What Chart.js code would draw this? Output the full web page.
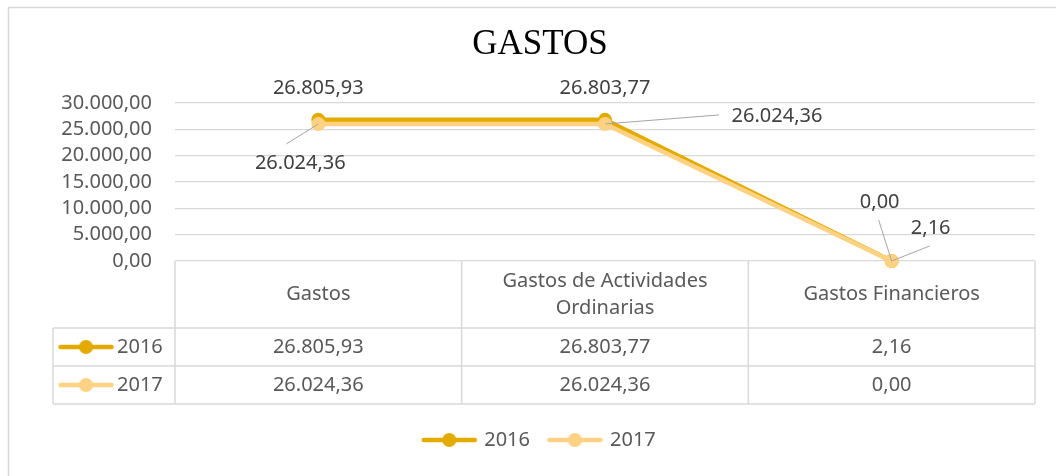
<!DOCTYPE html>
<html>
<head>
<meta charset="utf-8">
<script src="https://cdn.jsdelivr.net/npm/chart.js@4"></script>
<style>
  html, body { margin: 0; padding: 0; background: #fff; }
  #contenedor { width: 1056px; height: 476px; }
</style>
</head>
<body>
<div id="contenedor"><canvas id="graficoGastos" width="1056" height="476"></canvas></div>
<script>
// DATOS
const categorias = ['Gastos', 'Gastos de Actividades Ordinarias', 'Gastos Financieros'];
const anios = ['2016', '2017'];
const valores2016 = [26805.93, 26803.77, 2.16];
const valores2017 = [26024.36, 26024.36, 0.00];
const ejeMax = 30000;
const ejePaso = 5000;

// colores de las series
const colores = ['rgb(227, 170, 0)', 'rgb(255, 209, 130)'];

// posicion de las etiquetas respecto al punto (dx, dy) y linea guia opcional
const posEtiquetas = [
  [{dx: 0, dy: -32}, {dx: 0, dy: -32}, {dx: 39, dy: -33, guia: [38, -15]}],
  [{dx: -18, dy: 39, guia: [-32, 20]}, {dx: 172, dy: -8, guia: [114, -9]}, {dx: -12, dy: -59, guia: [-13, -41]}]
];

const fuente = '"Noto Sans", sans-serif';
const grisTexto = '#595959';
const grisLinea = '#d9d9d9';

//formato numerico tipo 26.805,93
function formatea(v){
    let partes = v.toFixed(2).split('.');
    partes[0] = partes[0].replace(/\B(?=(\d{3})+(?!\d))/g, '.');
    return partes.join(',');
}

//marcador linea + circulo para leyenda y tabla
function creaMarcador(color){
    let c = document.createElement('canvas');
    c.width = 57; c.height = 16;
    let g = c.getContext('2d');
    g.strokeStyle = color;
    g.lineWidth = 4.5;
    g.lineCap = 'round';
    g.beginPath(); g.moveTo(3, 8); g.lineTo(54, 8); g.stroke();
    g.fillStyle = color;
    g.beginPath(); g.arc(28.5, 8, 7, 0, Math.PI * 2); g.fill();
    return c;
}
const marcadores = colores.map(creaMarcador);

//parte el texto en lineas que quepan en el ancho
function partirTexto(ctx, texto, ancho){
    let palabras = texto.split(' ');
    let lineas = [];
    let actual = '';
    palabras.forEach(p => {
        let prueba = actual ? actual + ' ' + p : p;
        if (ctx.measureText(prueba).width > ancho && actual) {
            lineas.push(actual);
            actual = p;
        } else {
            actual = prueba;
        }
    });
    lineas.push(actual);
    return lineas;
}

//plugin: fondo, borde, tabla de datos y etiquetas
const pluginTabla = {
    id: 'tablaDatos',
    beforeDraw(chart){
        const ctx = chart.ctx;
        ctx.save();
        ctx.fillStyle = '#fff';
        ctx.fillRect(0, 0, chart.width, chart.height);
        ctx.strokeStyle = grisLinea;
        ctx.lineWidth = 1.5;
        ctx.strokeRect(8.5, 7.5, chart.width + 10, chart.height + 10);
        ctx.restore();
    },
    beforeDatasetsDraw(chart){
        const ctx = chart.ctx;
        const area = chart.chartArea;
        const xs = chart.scales.x;
        const n = categorias.length;
        const colW = (area.right - area.left) / n;
        const arriba = area.bottom;
        const altoCab = 67, altoFila = 38;
        const izq = 53;
        const abajo = arriba + altoCab + altoFila * anios.length;

        ctx.save();
        ctx.strokeStyle = grisLinea;
        ctx.lineWidth = 1.5;
        ctx.beginPath();
        for (let r = 0; r <= anios.length; r++) {
            let y = arriba + altoCab + altoFila * r;
            ctx.moveTo(izq, y); ctx.lineTo(area.right, y);
        }
        for (let i = 0; i <= n; i++) {
            let x = area.left + colW * i;
            ctx.moveTo(x, arriba); ctx.lineTo(x, abajo);
        }
        ctx.moveTo(izq, arriba + altoCab); ctx.lineTo(izq, abajo);
        ctx.stroke();

        ctx.font = '20px ' + fuente;
        ctx.fillStyle = grisTexto;
        ctx.textAlign = 'center';
        ctx.textBaseline = 'middle';
        //cabecera con categorias
        categorias.forEach((cat, i) => {
            let lineas = partirTexto(ctx, cat, colW - 20);
            let cx = xs.getPixelForValue(i);
            let y0 = arriba + altoCab / 2 - (lineas.length - 1) * 27 / 2;
            lineas.forEach((l, k) => ctx.fillText(l, cx, y0 + k * 27));
        });
        //filas de valores
        const series = [valores2016, valores2017];
        series.forEach((serie, r) => {
            let cy = arriba + altoCab + altoFila * (r + 0.5);
            serie.forEach((v, i) => {
                ctx.textAlign = 'center';
                ctx.fillText(formatea(v), xs.getPixelForValue(i), cy);
            });
            ctx.drawImage(marcadores[r], 86 - 28.5, cy - 8);
            ctx.textAlign = 'left';
            ctx.fillText(anios[r], 117, cy);
        });
        ctx.restore();
    },
    afterDatasetsDraw(chart){
        const ctx = chart.ctx;
        ctx.save();
        ctx.font = '20px ' + fuente;
        ctx.textAlign = 'center';
        ctx.textBaseline = 'middle';
        chart.data.datasets.forEach((ds, d) => {
            const meta = chart.getDatasetMeta(d);
            meta.data.forEach((pt, i) => {
                let pos = posEtiquetas[d][i];
                if (pos.guia) {
                    ctx.strokeStyle = '#a6a6a6';
                    ctx.lineWidth = 1;
                    ctx.beginPath();
                    ctx.moveTo(pt.x, pt.y);
                    ctx.lineTo(pt.x + pos.guia[0], pt.y + pos.guia[1]);
                    ctx.stroke();
                }
                ctx.fillStyle = '#404040';
                ctx.fillText(formatea(ds.data[i]), pt.x + pos.dx, pt.y + pos.dy);
            });
        });
        ctx.restore();
    }
};

const datosGrafico = {
    labels: categorias,
    datasets: [{
        label: anios[0],
        data: valores2016,
        borderColor: colores[0],
        backgroundColor: colores[0],
        borderWidth: 4.5,
        pointRadius: 7,
        pointBorderWidth: 0,
        pointBackgroundColor: colores[0],
        clip: false,
        order: 1
    }, {
        label: anios[1],
        data: valores2017,
        borderColor: colores[1],
        backgroundColor: colores[1],
        borderWidth: 4.5,
        pointRadius: 7,
        pointBorderWidth: 0,
        pointBackgroundColor: colores[1],
        clip: false,
        order: 0
    }]
};

const config = {
    type: 'line',
    data: datosGrafico,
    options: {
        responsive: false,
        animation: false,
        layout: { padding: { left: 45, right: 21, top: 0, bottom: 16 } },
        scales: {
            x: {
                offset: true,
                grid: { display: false },
                border: { display: false },
                ticks: { display: false },
                afterFit: s => { s.height = 149; }
            },
            y: {
                min: 0,
                max: ejeMax,
                ticks: {
                    stepSize: ejePaso,
                    autoSkip: false,
                    padding: 23,
                    color: grisTexto,
                    font: { family: fuente, size: 20 },
                    callback: v => formatea(v)
                },
                grid: { color: grisLinea, lineWidth: 1.3, drawTicks: false },
                border: { display: false },
                afterFit: s => { s.width = 130; }
            }
        },
        plugins: {
            title: {
                display: true,
                text: 'GASTOS',
                color: '#000',
                font: { family: '"Liberation Serif", serif', size: 35, weight: 'normal' },
                padding: { top: 24, bottom: 37 }
            },
            legend: {
                position: 'bottom',
                labels: {
                    usePointStyle: true,
                    pointStyleWidth: 50,
                    padding: 20,
                    color: grisTexto,
                    font: { family: fuente, size: 20 },
                    generateLabels(chart){
                        let items = Chart.defaults.plugins.legend.labels.generateLabels(chart);
                        items.forEach(it => { it.pointStyle = marcadores[it.datasetIndex]; });
                        items.sort((a, b) => a.datasetIndex - b.datasetIndex);
                        return items;
                    }
                }
            },
            tooltip: { enabled: false }
        }
    },
    plugins: [pluginTabla]
};

const grafico = new Chart(document.getElementById('graficoGastos'), config);
</script>
</body>
</html>
